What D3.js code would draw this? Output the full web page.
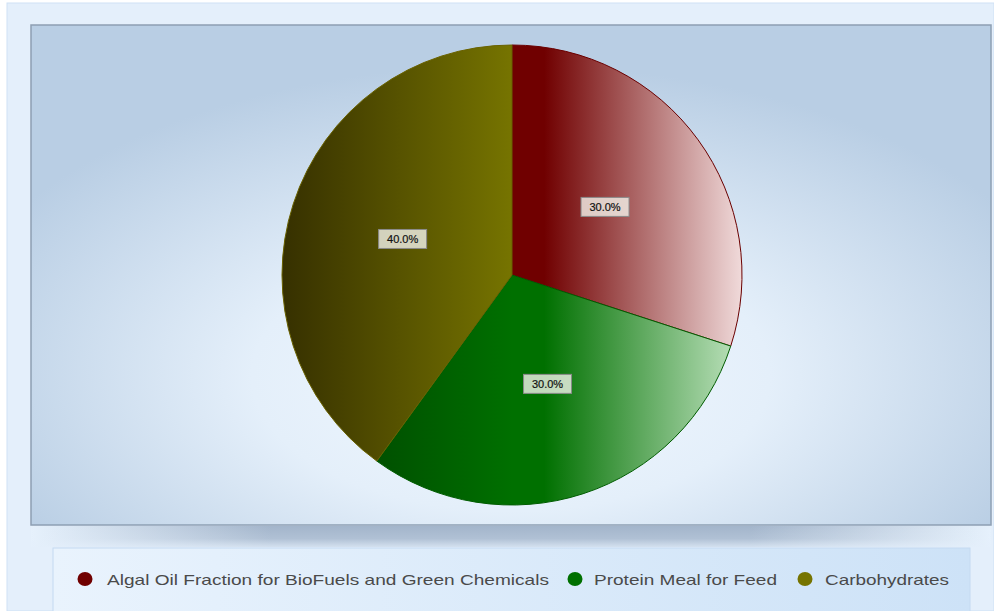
<!DOCTYPE html>
<html>
<head>
<meta charset="utf-8">
<script src="https://cdn.jsdelivr.net/npm/d3@7"></script>
<style>
  body { margin: 0; background: #ffffff; }
  svg { display: block; font-family: "Liberation Sans", Arial, sans-serif; }
</style>
</head>
<body>
<svg id="chart" width="994" height="611"></svg>
<script>
// chart data
var categories = ['Algal Oil Fraction for BioFuels and Green Chemicals', 'Protein Meal for Feed', 'Carbohydrates'];
var shares = [30.0, 30.0, 40.0];
var baseColors = ['#700000', '#007000', '#767400'];
var darkColors = ['#3c0000', '#003a00', '#363000'];
var lightColors = ['#f0dada', '#bfe3bf', '#d8d8a0'];
var edgeColors = ['#6a0000', '#005c00', '#6a6200'];

var app = {
    width: 994,
    height: 611,
    plot: { x: 31, y: 25, w: 960, h: 500 },
    pie: { cx: 512, cy: 275, r: 230 },
    legend: { x: 53, y: 548, w: 917, h: 70 }
}

var svg = d3.select('#chart');
var defs = svg.append('defs');

// plot background: light glow under the pie
var plotGrad = defs.append('radialGradient')
    .attr('id', 'plotBg')
    .attr('cx', 0.5).attr('cy', 0.68).attr('r', 0.6)
    .attr('fx', 0.5).attr('fy', 0.72);
plotGrad.append('stop').attr('offset', '0%').attr('stop-color', '#f1f8ff');
plotGrad.append('stop').attr('offset', '45%').attr('stop-color', '#e4effa');
plotGrad.append('stop').attr('offset', '100%').attr('stop-color', '#b9cee4');

var shadowGrad = defs.append('linearGradient')
    .attr('id', 'shadowBg')
    .attr('x1', 0).attr('x2', 1).attr('y1', 0).attr('y2', 0);
shadowGrad.append('stop').attr('offset', '0%').attr('stop-color', '#e6f1fc');
shadowGrad.append('stop').attr('offset', '25%').attr('stop-color', '#a3b5cb');
shadowGrad.append('stop').attr('offset', '75%').attr('stop-color', '#a3b5cb');
shadowGrad.append('stop').attr('offset', '100%').attr('stop-color', '#e6f1fc');

var shadowFade = defs.append('linearGradient')
    .attr('id', 'shadowFade')
    .attr('x1', 0).attr('x2', 0).attr('y1', 0).attr('y2', 1);
shadowFade.append('stop').attr('offset', '0%').attr('stop-color', '#e4effb').attr('stop-opacity', 0);
shadowFade.append('stop').attr('offset', '60%').attr('stop-color', '#e4effb').attr('stop-opacity', 0.2);
shadowFade.append('stop').attr('offset', '100%').attr('stop-color', '#e4effb').attr('stop-opacity', 0.75);

var legendGrad = defs.append('linearGradient')
    .attr('id', 'legendBg')
    .attr('x1', 0).attr('x2', 1).attr('y1', 0).attr('y2', 0);
legendGrad.append('stop').attr('offset', '0%').attr('stop-color', '#e9f3fd');
legendGrad.append('stop').attr('offset', '100%').attr('stop-color', '#cde2f7');

// one horizontal gradient per slice, across the whole pie (local coords)
var gx = d3.scaleLinear().domain([0, 1]).range([-app.pie.r, app.pie.r]);
categories.forEach(function(c, i) {
    var g = defs.append('linearGradient')
        .attr('id', 'slice' + i)
        .attr('gradientUnits', 'userSpaceOnUse')
        .attr('x1', gx(0)).attr('x2', gx(1)).attr('y1', 0).attr('y2', 0);
    g.append('stop').attr('offset', '0%').attr('stop-color', darkColors[i]);
    g.append('stop').attr('offset', '50%').attr('stop-color', baseColors[i]);
    g.append('stop').attr('offset', '57%').attr('stop-color', baseColors[i]);
    g.append('stop').attr('offset', '100%').attr('stop-color', lightColors[i]);
});

// outer panel
svg.append('rect')
    .attr('x', 7).attr('y', 3).attr('width', app.width - 7).attr('height', app.height - 3)
    .style('fill', '#e4effb')
    .style('stroke', '#cfe1f5');

// plot area
svg.append('rect')
    .attr('x', app.plot.x).attr('y', app.plot.y)
    .attr('width', app.plot.w).attr('height', app.plot.h)
    .style('fill', 'url(#plotBg)')
    .style('stroke', '#8d9fb3')
    .style('stroke-width', '1.5px');

// shadow band under plot area
svg.append('rect')
    .attr('x', app.plot.x).attr('y', app.plot.y + app.plot.h + 1)
    .attr('width', app.plot.w).attr('height', 21)
    .style('fill', 'url(#shadowBg)');
svg.append('rect')
    .attr('x', app.plot.x).attr('y', app.plot.y + app.plot.h + 1)
    .attr('width', app.plot.w).attr('height', 21)
    .style('fill', 'url(#shadowFade)');

// pie
var pie = d3.pie().sort(null).value(function(d) { return d; });
var arc = d3.arc().innerRadius(0).outerRadius(app.pie.r);
var labelArc = d3.arc().innerRadius(app.pie.r * 0.5).outerRadius(app.pie.r * 0.5);
var arcs = pie(shares);

var pieG = svg.append('g')
    .attr('transform', 'translate(' + app.pie.cx + ',' + app.pie.cy + ')');

pieG.selectAll('path.slice')
    .data(arcs)
    .enter()
    .append('path')
    .attr('class', 'slice')
    .attr('d', arc)
    .style('fill', function(d, i) { return 'url(#slice' + i + ')'; })
    .style('stroke', function(d, i) { return edgeColors[i]; })
    .style('stroke-width', '1px');

// value labels
var total = d3.sum(shares);
var labels = pieG.selectAll('g.lbl')
    .data(arcs)
    .enter()
    .append('g')
    .attr('class', 'lbl')
    .attr('transform', function(d) {
        return 'translate(' + labelArc.centroid(d) + ')';
    });

labels.append('rect')
    .attr('x', -24).attr('y', -10).attr('width', 48).attr('height', 19)
    .style('fill', '#f4f4ec')
    .style('fill-opacity', 0.8)
    .style('stroke', '#8a8a8a')
    .style('stroke-width', '1px');

labels.append('text')
    .attr('text-anchor', 'middle')
    .attr('y', 4)
    .style('font-size', '11px')
    .style('fill', '#111')
    .style('stroke', '#111')
    .style('stroke-width', '0.2px')
    .text(function(d) { return d3.format('.1f')(d.value / total * 100) + '%'; });

// legend
svg.append('rect')
    .attr('x', app.legend.x).attr('y', app.legend.y)
    .attr('width', app.legend.w).attr('height', app.legend.h)
    .style('fill', 'url(#legendBg)')
    .style('stroke', '#c4daf1');

var legendMarkX = [85, 575, 805];
var legendTextX = [107, 594, 825];
var legendTextW = [442, 183, 124];

var items = svg.append('g').selectAll('g.item')
    .data(categories)
    .enter()
    .append('g')
    .attr('class', 'item');

items.append('ellipse')
    .attr('cx', function(d, i) { return legendMarkX[i]; })
    .attr('cy', 579)
    .attr('rx', 7.5).attr('ry', 7)
    .style('fill', function(d, i) { return baseColors[i]; });

items.append('text')
    .attr('x', function(d, i) { return legendTextX[i]; })
    .attr('y', 585)
    .attr('textLength', function(d, i) { return legendTextW[i]; })
    .attr('lengthAdjust', 'spacingAndGlyphs')
    .style('font-size', '15px')
    .style('fill', '#4a4a4a')
    .text(function(d) { return d; });
</script>
</body>
</html>
